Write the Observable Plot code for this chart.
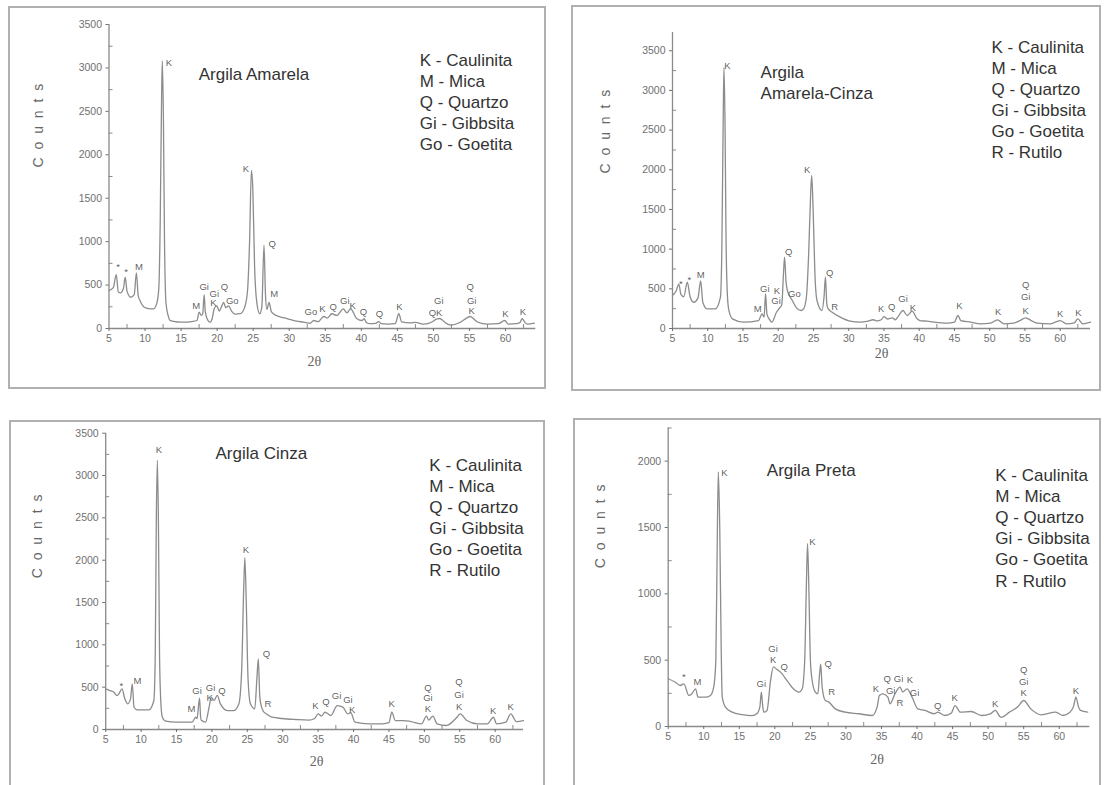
<!DOCTYPE html>
<html><head><meta charset="utf-8">
<script src="https://cdn.jsdelivr.net/npm/d3@7"></script>
<script src="https://cdn.jsdelivr.net/npm/@observablehq/plot@0.6"></script>
<style>
body{margin:0;background:#fff;width:1104px;height:785px;overflow:hidden;position:relative;font-family:"Liberation Sans",Arial,sans-serif}
.frame{position:absolute;border:2px solid #b0b0b0;box-sizing:border-box}
.panel{position:absolute}
</style></head><body>
<script>
// ---- data: 2θ (degrees), counts ----
const amarela = [[5.0,437],[5.6,470],[6.0,620],[6.3,420],[6.6,410],[7.0,460],[7.25,590],[7.5,430],[8.0,360],[8.5,390],[8.8,640],[9.05,380],[9.3,322],[9.9,245],[10.5,230],[11.2,227],[11.6,280],[11.9,450],[12.1,1200],[12.3,2700],[12.4,3080],[12.55,2400],[12.7,1000],[12.9,300],[13.2,150],[13.5,90],[14.5,75],[15.3,73],[16.5,80],[17.2,92],[17.5,188],[17.8,150],[18.0,170],[18.2,390],[18.35,200],[18.6,115],[19.0,73],[19.3,110],[19.6,230],[19.95,260],[20.3,200],[20.6,250],[20.9,300],[21.2,240],[21.6,260],[22.0,200],[22.5,165],[23.2,170],[23.8,240],[24.2,420],[24.5,1000],[24.75,1820],[24.95,1600],[25.2,700],[25.5,300],[25.9,170],[26.2,250],[26.5,960],[26.7,400],[26.9,220],[27.2,300],[27.5,200],[27.8,170],[28.5,140],[29.7,115],[31.0,85],[32.0,73],[32.9,60],[33.4,92],[34.0,80],[34.8,138],[35.3,120],[35.9,170],[36.6,150],[37.5,226],[38.0,180],[38.5,226],[39.4,112],[40.1,92],[40.4,112],[40.7,70],[41.2,55],[42.0,60],[42.4,80],[42.8,55],[43.6,50],[44.7,55],[45.2,170],[45.6,75],[46.8,65],[47.5,70],[48.7,50],[49.8,75],[50.5,112],[50.9,115],[51.2,100],[51.6,70],[52.4,40],[53.8,75],[54.6,120],[55.1,138],[55.6,110],[56.1,75],[57.5,50],[59.0,55],[59.9,92],[60.4,50],[61.5,55],[62.0,70],[62.3,112],[62.7,70],[63.0,50],[64.0,62]];
const amarelaCinza = [[5.0,420],[5.5,470],[5.9,560],[6.2,430],[6.6,400],[7.1,583],[7.5,400],[8.0,331],[8.6,380],[9.0,600],[9.3,330],[9.9,248],[11.1,248],[11.8,394],[12.0,1000],[12.2,2700],[12.3,3290],[12.45,2600],[12.6,1100],[12.8,400],[13.0,227],[13.5,122],[15.1,80],[17.2,100],[17.7,185],[18.0,143],[18.2,440],[18.4,180],[18.7,122],[19.1,80],[19.75,205],[20.1,248],[20.5,300],[20.75,700],[20.9,900],[21.1,600],[21.3,478],[22.0,353],[22.6,260],[23.2,227],[23.6,248],[24.0,400],[24.3,900],[24.6,1700],[24.75,1930],[24.95,1500],[25.2,700],[25.5,353],[26.2,227],[26.5,400],[26.7,650],[26.9,300],[27.1,248],[27.65,205],[28.8,143],[30.2,93],[31.6,80],[32.6,90],[33.5,110],[34.0,95],[34.6,110],[35.0,150],[35.5,120],[36.2,135],[36.6,110],[37.0,150],[37.7,227],[38.3,164],[39.0,218],[39.7,122],[40.1,100],[41.1,92],[42.1,80],[44.0,67],[45.0,80],[45.5,164],[45.9,100],[47.3,80],[48.7,59],[50.1,67],[51.1,109],[52.0,59],[53.4,67],[54.3,100],[55.1,135],[55.9,100],[56.7,67],[58.6,59],[60.0,100],[60.9,59],[62.0,70],[62.5,122],[63.2,59],[64.3,80]];
const cinza = [[5.0,480],[5.6,460],[6.15,440],[6.6,400],[6.85,420],[7.3,480],[7.7,362],[8.1,303],[8.5,362],[8.75,540],[9.0,263],[9.45,232],[11.1,232],[11.8,343],[12.0,900],[12.15,2500],[12.3,3180],[12.45,2400],[12.6,900],[12.8,300],[13.0,145],[13.5,98],[14.9,87],[17.2,87],[17.7,145],[17.9,130],[18.25,370],[18.4,150],[18.5,110],[19.1,87],[19.6,263],[19.9,382],[20.3,343],[20.75,402],[21.2,303],[22.2,224],[23.1,224],[23.8,300],[24.2,700],[24.5,1700],[24.65,2030],[24.85,1500],[25.1,600],[25.45,300],[26.05,244],[26.35,600],[26.55,835],[26.75,400],[26.9,303],[27.3,210],[27.6,190],[28.5,145],[29.9,130],[31.8,118],[33.7,110],[34.5,130],[35.0,185],[35.5,160],[35.95,205],[36.8,165],[37.7,283],[38.5,264],[39.2,185],[39.6,200],[40.2,87],[42.2,67],[44.1,67],[45.0,80],[45.4,205],[45.9,106],[47.1,106],[48.1,94],[49.6,67],[50.3,158],[50.6,110],[51.2,158],[51.8,67],[53.1,47],[54.6,145],[55.05,185],[56.0,106],[57.5,67],[58.9,67],[59.75,145],[60.2,67],[61.5,87],[62.2,185],[63.0,94],[64.0,106]];
const preta = [[5.0,360],[6.0,334],[6.7,309],[7.2,322],[7.9,234],[8.3,245],[8.85,284],[9.2,221],[10.25,221],[10.95,234],[11.4,296],[11.7,500],[11.9,1400],[12.05,1920],[12.25,1500],[12.45,600],[12.6,221],[13.05,146],[14.0,108],[15.4,89],[16.8,82],[17.5,98],[17.9,150],[18.1,259],[18.3,150],[18.45,108],[18.9,121],[19.4,347],[19.8,450],[20.3,430],[20.8,410],[21.7,347],[22.4,296],[23.4,259],[23.85,284],[24.2,500],[24.45,1100],[24.6,1380],[24.8,1000],[25.0,500],[25.25,347],[25.7,259],[26.05,246],[26.3,400],[26.45,470],[26.65,300],[27.1,196],[27.6,184],[28.5,133],[29.9,108],[31.8,96],[33.7,83],[34.4,150],[34.7,234],[35.2,246],[35.9,221],[36.2,171],[36.9,246],[37.6,297],[38.0,260],[38.6,284],[39.3,221],[40.1,133],[41.1,121],[42.4,96],[42.9,108],[43.9,83],[44.8,100],[45.35,158],[46.1,108],[47.6,113],[49.1,83],[50.3,95],[51.0,121],[51.8,70],[53.0,108],[54.2,150],[55.0,196],[56.0,133],[57.5,88],[59.5,108],[60.5,83],[61.5,108],[62.0,150],[62.35,221],[62.7,150],[63.0,121],[64.0,108]];

// ---- peak annotations: [label, 2θ, counts] ----
const amarelaLabels = [["*",6.25,705],["*",7.37,648],["M",9.17,705],["K",13.3,3053],["M",17.1,265],["Gi",18.2,475],["Gi",19.6,399],["K",19.5,291],["Q",21.0,475],["Go",22.1,314],["K",24.0,1838],["Q",27.65,975],["M",27.9,399],["Go",33.0,188],["K",34.6,226],["Q",36.1,253],["Gi",37.7,314],["K",38.8,265],["Q",40.3,188],["Q",42.5,169],["K",45.3,245],["Gi",50.75,322],["QK",50.3,176],["Q",55.1,475],["Gi",55.3,322],["K",55.3,207],["K",60.0,169],["K",62.4,196]];
const amarelaCinzaLabels = [["*",6.2,563],["*",7.4,613],["M",9.0,680],["K",12.8,3312],["M",17.1,252],["Gi",18.1,500],["K",19.8,470],["Gi",19.7,353],["Q",21.5,961],["Go",22.3,437],["K",24.1,1998],["Q",27.3,697],["R",28.0,277],["K",34.6,248],["Q",36.1,268],["Gi",37.7,374],["K",39.1,261],["K",45.7,290],["K",51.2,205],["Q",55.1,554],["Gi",55.1,394],["K",55.1,227],["K",60.0,185],["K",62.6,193]];
const cinzaLabels = [["*",7.2,520],["M",9.5,579],["K",12.5,3307],["M",17.1,244],["Gi",17.9,461],["Gi",19.8,488],["K",19.7,370],["Q",21.4,461],["K",24.8,2126],["Q",27.7,890],["R",27.9,303],["K",34.6,283],["Q",36.1,323],["Gi",37.6,402],["Gi",39.2,354],["K",39.8,236],["K",45.4,303],["Q",50.5,488],["Gi",50.5,370],["K",50.5,244],["Q",54.9,559],["Gi",54.9,410],["K",54.9,264],["K",59.7,224],["K",62.2,264]];
const pretaLabels = [["*",7.2,372],["M",9.1,334],["K",12.9,1912],["Gi",18.1,322],["Gi",19.75,586],["K",19.75,505],["Q",21.3,447],["K",25.3,1389],["Q",27.5,473],["R",28.0,259],["K",34.2,284],["Q",35.8,355],["Gi",37.4,360],["K",39.0,350],["Gi",36.3,268],["R",37.6,180],["Gi",39.65,254],["Q",42.9,158],["K",45.3,214],["K",51.0,171],["Q",55.0,430],["Gi",55.0,339],["K",55.0,254],["K",62.35,271]];

// ---- titles, legends, ticks ----
const titles = ["Argila Amarela", "Argila\nAmarela-Cinza", "Argila Cinza", "Argila Preta"];
const legend5 = ["K - Caulinita", "M - Mica", "Q - Quartzo", "Gi - Gibbsita", "Go - Goetita"];
const legend6 = [...legend5, "R - Rutilo"];
const xMajor = [5,10,15,20,25,30,35,40,45,50,55,60];
const xMinor = [7.5,12.5,17.5,22.5,27.5,32.5,37.5,42.5,47.5,52.5,57.5,62.5];
const yMajor3500 = [0,500,1000,1500,2000,2500,3000,3500];
const yMajor2000 = [0,500,1000,1500,2000];
const yMinor3500 = [250,750,1250,1750,2250,2750,3250];
const yMinor2000 = [250,750,1250,1750,2250];

const axisCol = "#8a8a8a";
const fmt = d3.format("d");

function frame(l, t, w, h) {
  const d = document.createElement("div");
  d.className = "frame";
  Object.assign(d.style, {left: l + "px", top: t + "px", width: w + "px", height: h + "px"});
  document.body.appendChild(d);
}

function panel(c) {
  const svg = Plot.plot({
    width: c.w, height: c.h,
    marginTop: c.m[0], marginRight: c.m[1], marginBottom: c.m[2], marginLeft: c.m[3],
    x: {domain: [5, c.xMax], label: null},
    y: {domain: [0, c.yMax], label: null},
    style: {background: "transparent", fontFamily: "Liberation Sans, Arial, sans-serif"},
    marks: [
      Plot.ruleX([5], {stroke: axisCol, strokeWidth: 1.3}),
      Plot.ruleY([0], {stroke: axisCol, strokeWidth: 1.3}),
      Plot.axisX(xMinor, {tickSize: -4, tickFormat: () => "", color: axisCol, label: null}),
      Plot.axisX(xMajor, {tickSize: 3, tickPadding: 3, tickFormat: fmt, fontSize: 10.5, color: "#707070", label: null}),
      Plot.axisY(c.yMinor, {tickSize: -4, tickFormat: () => "", color: axisCol, label: null}),
      Plot.axisY(c.yMajor, {tickSize: 3, tickPadding: 4, tickFormat: fmt, fontSize: 10.5, color: "#707070", label: null}),
      Plot.line(c.data, {x: d => d[0], y: d => d[1], stroke: "#8c8c8c", strokeWidth: 1.3, curve: "monotone-x"}),
      Plot.text(c.labels, {x: d => d[1], y: d => d[2], text: d => d[0], fontSize: 9.5, fill: "#5a5a5a", fillOpacity: 0.99}),
      Plot.text([{x: c.titleX, y: c.titleY, t: c.title}], {x: "x", y: "y", text: "t", textAnchor: "start", lineAnchor: "top", lineHeight: 1.27, fontSize: 17, fill: "#333"}),
      Plot.text([{x: c.legX, y: c.legY, t: c.legend.join("\n")}], {x: "x", y: "y", text: "t", textAnchor: "start", lineAnchor: "top", lineHeight: 1.24, fontSize: 17, fill: "#333"}),
      Plot.text(["C o u n t s"], {frameAnchor: "left", dx: c.cd[0], dy: c.cd[1], rotate: -90, fontSize: 14, fill: "#666"}),
      Plot.text(["2θ"], {frameAnchor: "bottom", dx: c.td[0], dy: c.td[1], fontSize: 14, fill: "#666", fontFamily: "Liberation Serif, DejaVu Serif, serif"})
    ]
  });
  d3.select(svg).selectAll("text").filter(function() { return this.textContent === "C o u n t s"; }).style("letter-spacing", "2px");
  const wrap = document.createElement("div");
  wrap.className = "panel";
  Object.assign(wrap.style, {left: c.l + "px", top: c.t + "px"});
  wrap.appendChild(svg);
  document.body.appendChild(wrap);
}

frame(8, 6, 538, 383);
frame(571, 5, 530, 386);
frame(9, 420, 536, 380);
frame(573, 418, 528, 380);

panel({data: amarela, labels: amarelaLabels, title: titles[0], titleX: 17.44, titleY: 3038,
  legend: legend5, legX: 48.1, legY: 3199, xMax: 64.2, yMax: 3500, yMajor: yMajor3500, yMinor: yMinor3500,
  l: 10, t: 10, w: 536, h: 372, m: [14, 10.7, 54, 98.5], cd: [-70, -9], td: [-8, 37]});
panel({data: amarelaCinza, labels: amarelaCinzaLabels, title: titles[1], titleX: 17.5, titleY: 3354,
  legend: legend6, legX: 50.25, legY: 3661, xMax: 64.3, yMax: 3730, yMajor: yMajor3500, yMinor: yMinor3500,
  l: 573, t: 8, w: 525, h: 372, m: [24, 8, 52, 99], cd: [-67, -7], td: [0, 29]});
panel({data: cinza, labels: cinzaLabels, title: titles[2], titleX: 20.5, titleY: 3375,
  legend: legend6, legX: 50.7, legY: 3236, xMax: 64, yMax: 3500, yMajor: yMajor3500, yMinor: yMinor3500,
  l: 11, t: 423, w: 530, h: 362, m: [9.7, 18, 56, 94.2], cd: [-68, -3], td: [2, 36]});
panel({data: preta, labels: pretaLabels, title: titles[3], titleX: 18.87, titleY: 2005,
  legend: legend6, legX: 51.0, legY: 1962, xMax: 64.3, yMax: 2250, yMajor: yMajor2000, yMinor: yMinor2000,
  l: 575, t: 421, w: 522, h: 364, m: [6.5, 7.7, 59, 92.7], cd: [-68, -9], td: [-2, 37]});
</script>
</body></html>
